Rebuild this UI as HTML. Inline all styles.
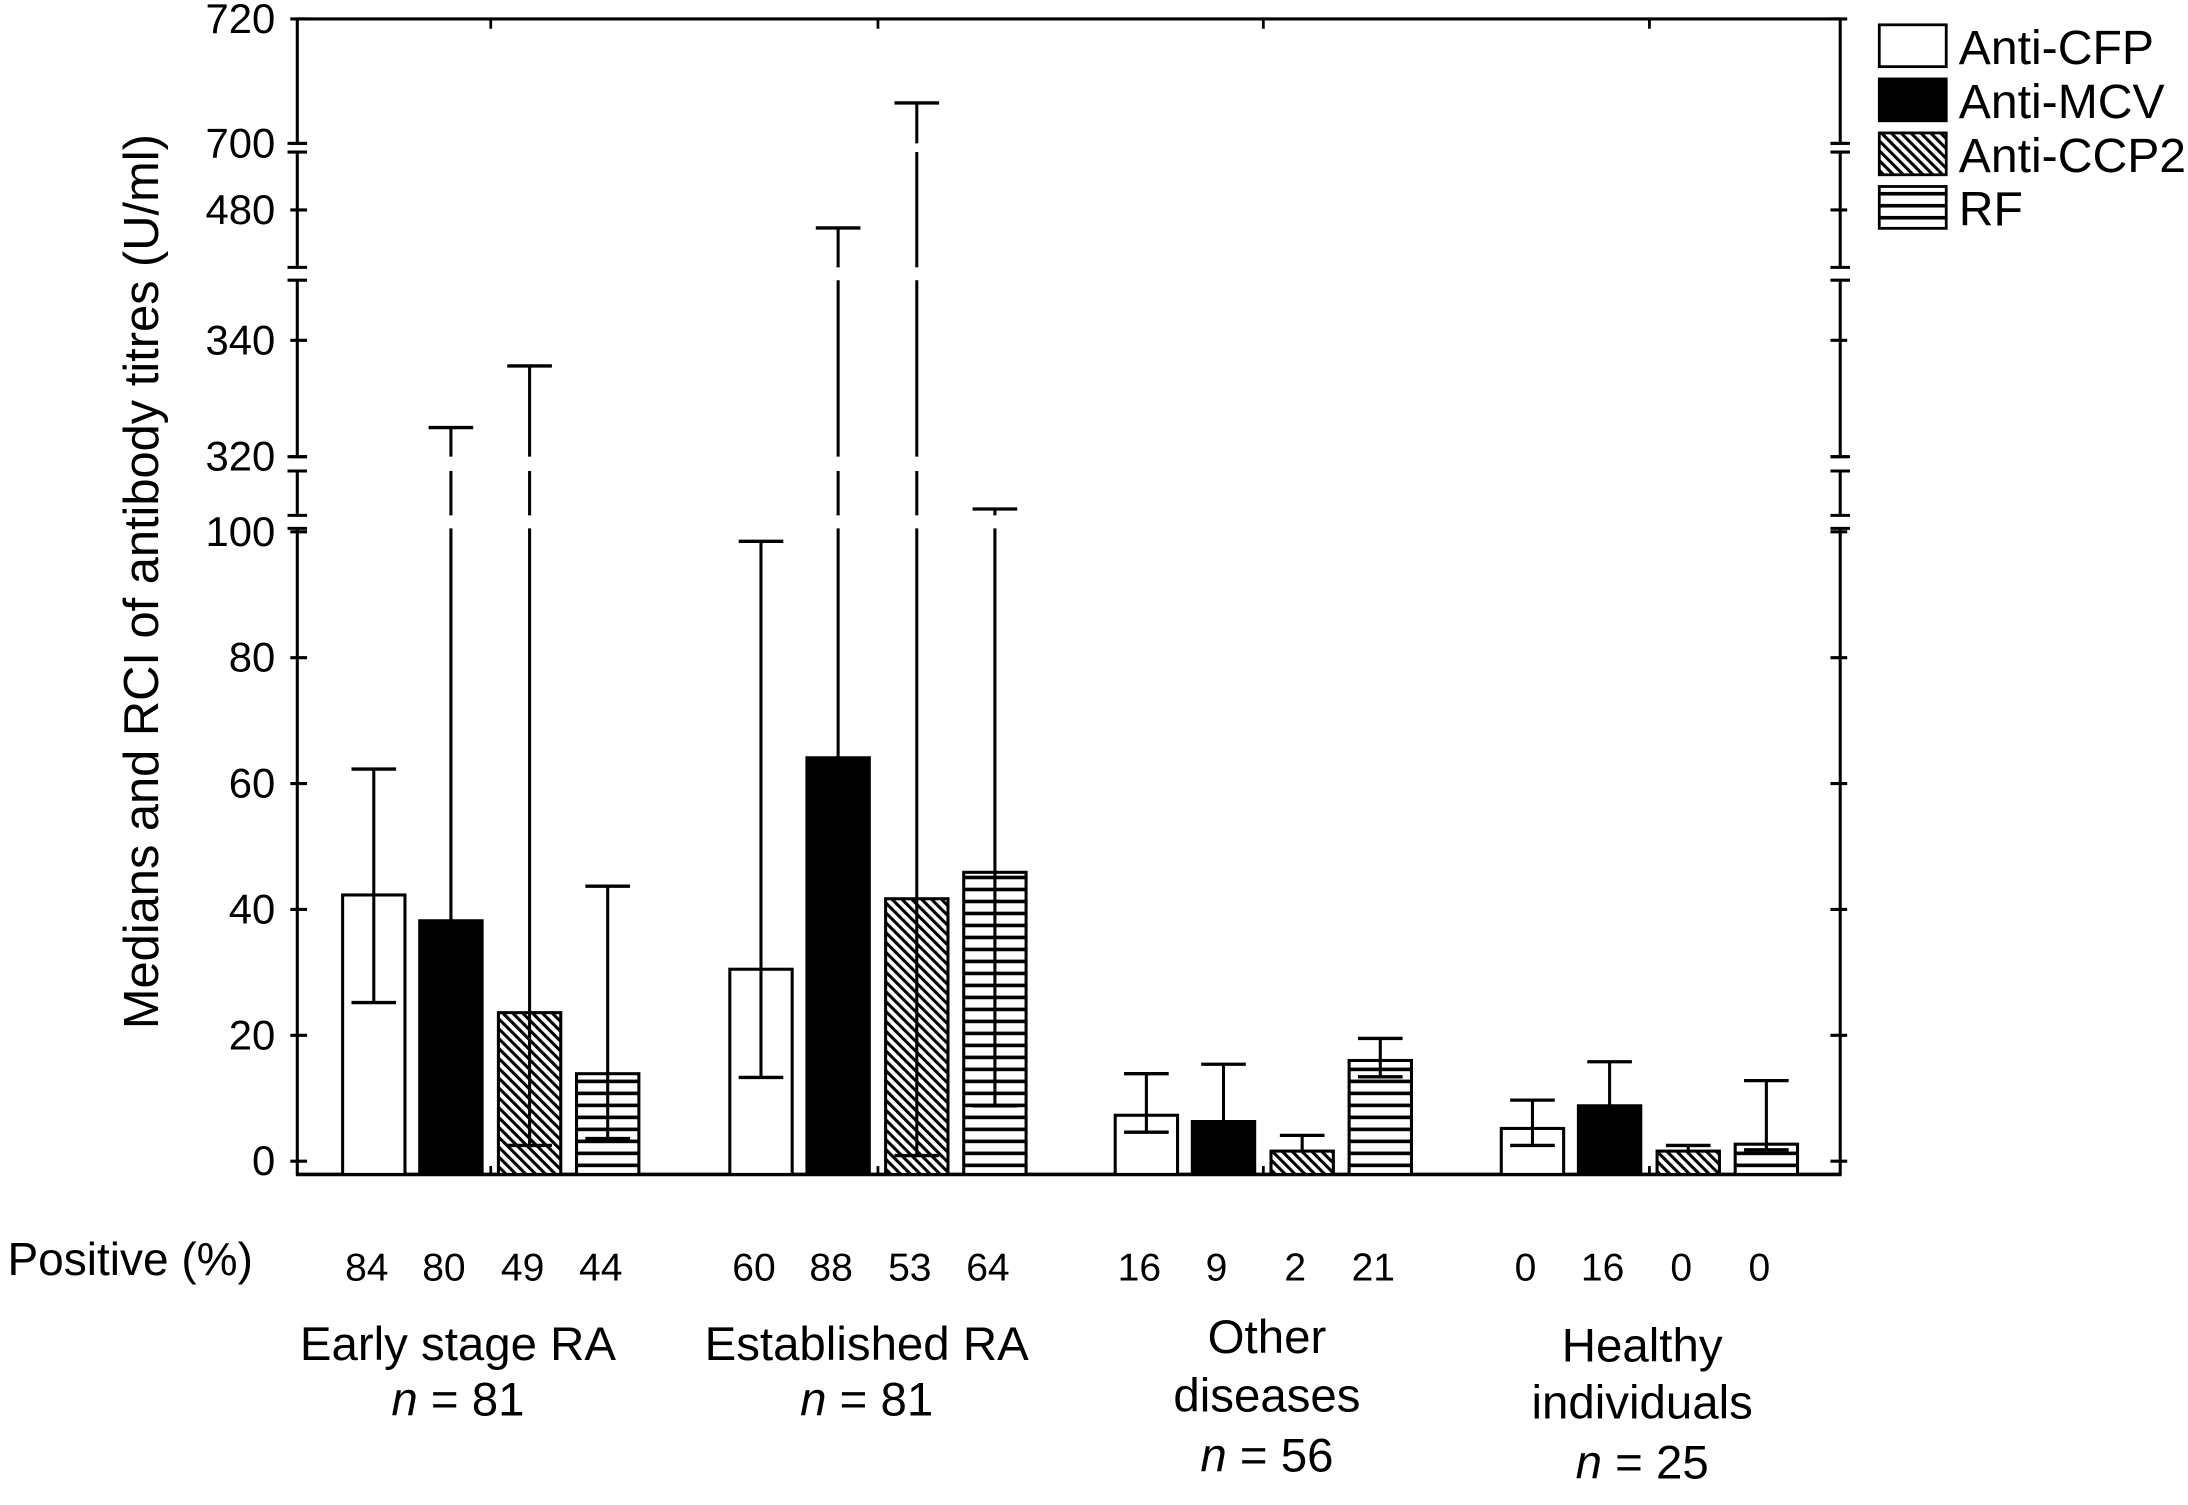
<!DOCTYPE html>
<html><head><meta charset="utf-8"><style>
html,body{margin:0;padding:0;background:#fff;}
svg{display:block;}
text{font-family:"Liberation Sans Narrow","Liberation Sans",sans-serif;fill:#000;}
</style></head><body>
<svg id="chart" width="2188" height="1505" viewBox="0 0 1568 1079" xmlns="http://www.w3.org/2000/svg">
<defs>
<pattern id="hatch" patternUnits="userSpaceOnUse" width="5" height="5" patternTransform="rotate(-45)">
<rect width="5" height="5" fill="#fff"/><rect x="0" y="0" width="2.2" height="5" fill="#000"/>
</pattern>
<pattern id="hlines" patternUnits="userSpaceOnUse" width="10" height="8.6" y="0">
<rect width="10" height="8.6" fill="#fff"/><rect x="0" y="0" width="10" height="2.6" fill="#000"/>
</pattern>
</defs>
<g id="plot"></g>
</svg>
<script>
const groups = ["Early stage RA","Established RA","Other diseases","Healthy individuals"];
const series = ["Anti-CFP","Anti-MCV","Anti-CCP2","RF"];
const medians = [[42.3,38.2,23.6,13.9],[30.5,64.1,41.7,45.9],[7.3,6.3,1.6,16.0],[5.2,8.8,1.6,2.7]];
const ciLow = [[25.2,null,2.5,3.6],[13.3,null,0.9,8.8],[4.6,null,null,13.4],[2.5,null,null,1.8]];
const ciHigh = [[62.3,325,335.6,43.7],[98.5,477,706.5,311],[13.9,15.4,4.1,19.5],[9.7,15.8,2.5,12.8]];
const positive = [[84,80,49,44],[60,88,53,64],[16,9,2,21],[0,16,0,0]];
const groupLabels = [["Early stage RA","n = 81"],["Established RA","n = 81"],["Other","diseases","n = 56"],["Healthy","individuals","n = 25"]];
const tickValues = [0,20,40,60,80,100,320,340,480,700,720];
function yScale(v){
  if(v<=100) return 832.5-(v)*4.512;
  if(v<=360) return 327.4-(v-320)*4.17;
  if(v<=600) return 150.5-(v-480)*4.3;
  return 102.8-(v-700)*4.46;
}
const L=212.8,R=1319,T=13.6,B=842;
const groupStart=[245.3,522.9,799.2,1076];
const labelCenter=[328,621,908,1177];
const barOff=[0,55.3,111.7,167.7], BW=44.7;
const breaks=[[102.8,109],[191.7,200.9],[327.4,337.7],[369.5,378.8]];
const fills=["#fff","#000","url(#hatch)","url(#hlines)"];
const NS="http://www.w3.org/2000/svg";
const g=document.getElementById('plot');
function el(t,a,p){const e=document.createElementNS(NS,t);for(const k in a)e.setAttribute(k,a[k]);(p||g).appendChild(e);return e;}
function vline(x,y1,y2,name){
  let a=Math.min(y1,y2),b=Math.max(y1,y2);
  let pieces=[[a,b]];
  breaks.forEach(br=>{const np=[];pieces.forEach(([s,e])=>{if(br[1]<=s||br[0]>=e){np.push([s,e]);}else{if(br[0]>s)np.push([s,br[0]]);if(br[1]<e)np.push([br[1],e]);}});pieces=np;});
  pieces.forEach(([s,e])=>{const l=el('line',{x1:x,x2:x,y1:s,y2:e,stroke:'#000','stroke-width':2.2});
  
  });
}
const topLine=el('line',{x1:L,x2:R,y1:T,y2:T,stroke:'#000','stroke-width':2.2});


const botLine=el('line',{x1:L-1,x2:R+1,y1:B,y2:B,stroke:'#000','stroke-width':2.6});


[L,R].forEach((x,i)=>{vline(x,T,B,i?'right-axis-line':'y-axis-line');
  breaks.forEach(br=>{br.forEach(yy=>{const m=el('line',{x1:x-7,x2:x+7,y1:yy,y2:yy,stroke:'#000','stroke-width':2.2});
  
  });});
});
tickValues.forEach(v=>{const y=yScale(v);
  [L,R].forEach((x,i)=>{const t=el('line',{x1:i?x-7:x-5,x2:i?x+5:x+7,y1:y,y2:y,stroke:'#000','stroke-width':2.2});
  
  });
  const tx=el('text',{x:197,y:y+10,'font-size':30,'text-anchor':'end'});tx.textContent=v;
  
  
});
groupStart.forEach(gx=>{const cx=gx+106.2;
  const a=el('line',{x1:cx,x2:cx,y1:T,y2:T+7,stroke:'#000','stroke-width':2});
  
  
  const b=el('line',{x1:cx,x2:cx,y1:B-6,y2:B,stroke:'#000','stroke-width':2});
  
  
});
groups.forEach((gn,gi)=>{series.forEach((sn,si)=>{
  const x=groupStart[gi]+barOff[si],cx=x+BW/2,y=yScale(medians[gi][si]);
  const r=el('rect',{x:x,y:y,width:BW,height:B-y,fill:fills[si],stroke:'#000','stroke-width':2.2});
  
  
  const yh=yScale(ciHigh[gi][si]);
  const lo=ciLow[gi][si]; const yl=lo==null?y:yScale(lo);
  vline(cx,yh,yl,'error-bar');
  const c=el('line',{x1:cx-16,x2:cx+16,y1:yh,y2:yh,stroke:'#000','stroke-width':2.4});
  
  
  if(lo!=null){const c2=el('line',{x1:cx-16,x2:cx+16,y1:yl,y2:yl,stroke:'#000','stroke-width':2.4});
  
  }
  const p=el('text',{x:cx-5,y:918,'font-size':28,'text-anchor':'middle'});p.textContent=positive[gi][si];
  
  
});
  const lines=groupLabels[gi];const cx=labelCenter[gi];
  const ys=lines.length===2?[975,1015]:(gi===2?[970,1012,1055]:[976,1017,1060]);
  lines.forEach((s,k)=>{const t=el('text',{x:cx,y:ys[k],'font-size':34,'text-anchor':'middle'});
    if(s.startsWith('n = ')){const it=el('tspan',{'font-style':'italic'},t);it.textContent='n';const r2=el('tspan',{},t);r2.textContent=' = '+s.slice(4);}
    else t.textContent=s;
    
    });
});
const pos=el('text',{x:5,y:914,'font-size':33});pos.textContent='Positive (%)';


const yt=el('text',{x:0,y:0,'font-size':35,'text-anchor':'middle',transform:'translate(113,417) rotate(-90)',style:'font-family:"Liberation Sans",sans-serif'});
yt.textContent='Medians and RCI of antibody  titres (U/ml)';


const legY=[17.8,56.6,95.3,133.7];
series.forEach((s,i)=>{const r=el('rect',{x:1347,y:legY[i],width:48,height:30,fill:fills[i],stroke:'#000','stroke-width':2});
  
  
  const t=el('text',{x:1404,y:legY[i]+28,'font-size':34.5});t.textContent=s;
  
  });
</script>
</body></html>
